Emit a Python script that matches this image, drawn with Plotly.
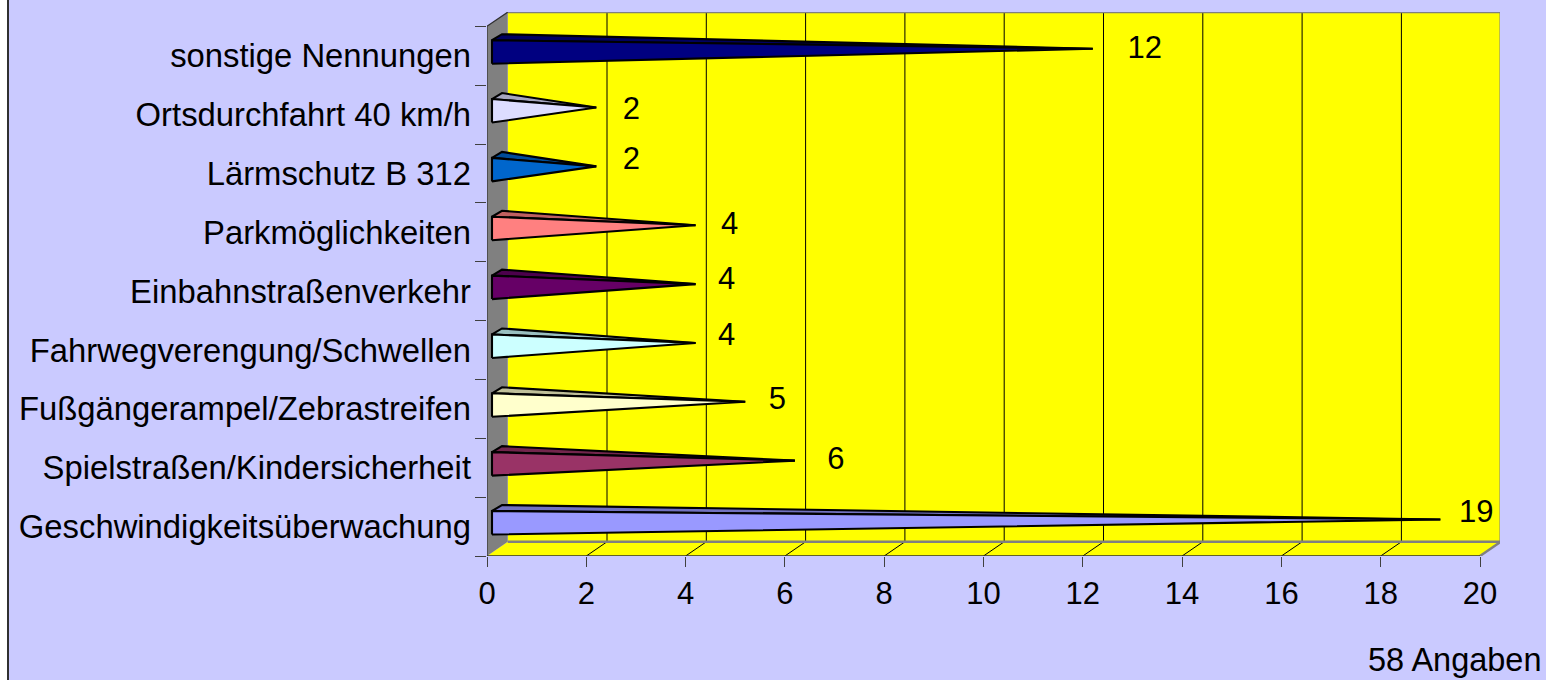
import plotly.graph_objects as go

categories = ["Geschwindigkeitsüberwachung", "Spielstraßen/Kindersicherheit",
              "Fußgängerampel/Zebrastreifen", "Fahrwegverengung/Schwellen",
              "Einbahnstraßenverkehr", "Parkmöglichkeiten", "Lärmschutz B 312",
              "Ortsdurchfahrt 40 km/h", "sonstige Nennungen"]
values = [19, 6, 5, 4, 4, 4, 2, 2, 12]
colors = ["#9999FF", "#993366", "#FFFFCC", "#CCFFFF", "#660066",
          "#FF8080", "#0066CC", "#DDDDFF", "#000080"]
x_ticks = list(range(0, 21, 2))
note = "58 Angaben"

# layout constants (pixels)
W, H = 1546, 680
L, R, T, B = 487, 46, 12, 124
PXX = 49.65
PXY = 58.85
XMAX = (W - L - R) / PXX
YMAX = (H - T - B) / PXY
N = len(categories)
label_dx = [46, 51, 42, 41, 41, 44, 45, 45, 62]
label_dy = [12, 6, 8, 13, 10, 6, 12, 3, 6]
FONT = "Liberation Sans, Arial, sans-serif"


def dx(p):
    return p / PXX


def dy(p):
    return p / PXY


def darker(c, f=0.75):
    r, g, b = [int(c[i:i + 2], 16) for i in (1, 3, 5)]
    return f"rgb({int(r * f)},{int(g * f)},{int(b * f)})"


fig = go.Figure()


def poly(xs, ys, fill=None, line=None, width=1.0):
    fig.add_trace(go.Scatter(
        x=xs, y=ys, mode="lines" if line else "none",
        fill="toself" if fill else None, fillcolor=fill,
        line=dict(color=line, width=width) if line else None,
        hoverinfo="skip", showlegend=False, cliponaxis=False))


DX, DY = dx(20.7), dy(14.2)
top = N
# back wall, floor, side wall
poly([DX, 20 + DX, 20 + DX, DX, DX], [DY, DY, top + DY, top + DY, DY], fill="#FFFF00")
poly([0, 20, 20 + DX, DX, 0], [0, 0, DY, DY, 0], fill="#FFFF00")
poly([0, DX, DX, 0, 0], [0, DY, top + DY, top, 0], fill="#808080")
# grid on wall and floor
for v in x_ticks[1:-1]:
    poly([v, v + DX, v + DX], [0, DY, top + DY], line="#000000", width=1)
# edges
poly([DX, 20 + DX, 20 + DX, DX], [DY, DY, top + DY, top + DY], line="#808080", width=2.4)
poly([20, 20 + DX], [0, DY], line="#808080", width=2.4)
poly([0, 0, DX], [0, top, top + DY], line="#303030", width=1.2)
poly([0, 20], [0, 0], line="#303030", width=1.5)

# pyramids
for i, (v, c) in enumerate(zip(values, colors)):
    x0, x1, tip = dx(5), dx(15), dx(10) + v
    y_fb, y_ft, y_bt, y_tip = i + dy(21.5), i + dy(45), i + dy(51), i + dy(36.5)
    poly([x0, x1, tip, x0], [y_ft, y_bt, y_tip, y_ft], fill=darker(c), line="#000000", width=2.1)
    poly([x0, tip, x0, x0], [y_fb, y_tip, y_ft, y_fb], fill=c, line="#000000", width=2.1)

# value labels
fig.add_trace(go.Scatter(
    x=[v + dx(d) for v, d in zip(values, label_dx)],
    y=[i + 0.5 + dy(d) for i, d in enumerate(label_dy)],
    mode="text", text=[str(v) for v in values],
    textfont=dict(family=FONT, size=31, color="#000000"),
    textposition="middle center", hoverinfo="skip", showlegend=False, cliponaxis=False))

fig.update_layout(
    width=W, height=H, autosize=False,
    margin=dict(l=L, r=R, t=T, b=B, pad=0),
    paper_bgcolor="#CACAFF", plot_bgcolor="rgba(0,0,0,0)",
    font=dict(family=FONT, size=31, color="#000000"),
    xaxis=dict(range=[0, XMAX], tickmode="array", tickvals=x_ticks, ticktext=[str(t) for t in x_ticks],
               ticks="outside", ticklen=10, tickcolor="#404040", tickwidth=1, showgrid=False,
               zeroline=False, showline=False, fixedrange=True, ticklabelstandoff=0,
               tickfont=dict(family=FONT, size=31)),
    yaxis=dict(range=[0, YMAX], tickmode="array", tickvals=[i + 0.5 for i in range(N)], ticktext=categories,
               ticks="", showgrid=False, zeroline=False, showline=False, fixedrange=True,
               ticklabelstandoff=15, tickfont=dict(family=FONT, size=32.8),
               minor=dict(tickmode="array", tickvals=list(range(N + 1)), ticks="outside", ticklen=11,
                          tickcolor="#404040", tickwidth=1, showgrid=False)),
    shapes=[
        dict(type="rect", xref="paper", yref="paper", layer="below",
             x0=-L / (W - L - R), x1=(8 - L) / (W - L - R), y0=-B / (H - T - B), y1=1 + T / (H - T - B),
             fillcolor="#FFFFFF", line=dict(width=0)),
        dict(type="line", xref="paper", yref="paper", layer="below",
             x0=(8 - L) / (W - L - R), x1=(8 - L) / (W - L - R), y0=-B / (H - T - B), y1=1 + T / (H - T - B),
             line=dict(color="#303030", width=2)),
    ],
    annotations=[dict(text=note, xref="paper", yref="paper", showarrow=False, xanchor="right", yanchor="middle",
                      x=(1544 - L) / (W - L - R), y=-(660 - (H - B)) / (H - T - B),
                      font=dict(family=FONT, size=32.5, color="#000000"))],
)

fig.write_html("out.html", config={"displayModeBar": False},
               post_script="document.body.style.margin='0';document.body.style.overflow='hidden';")
